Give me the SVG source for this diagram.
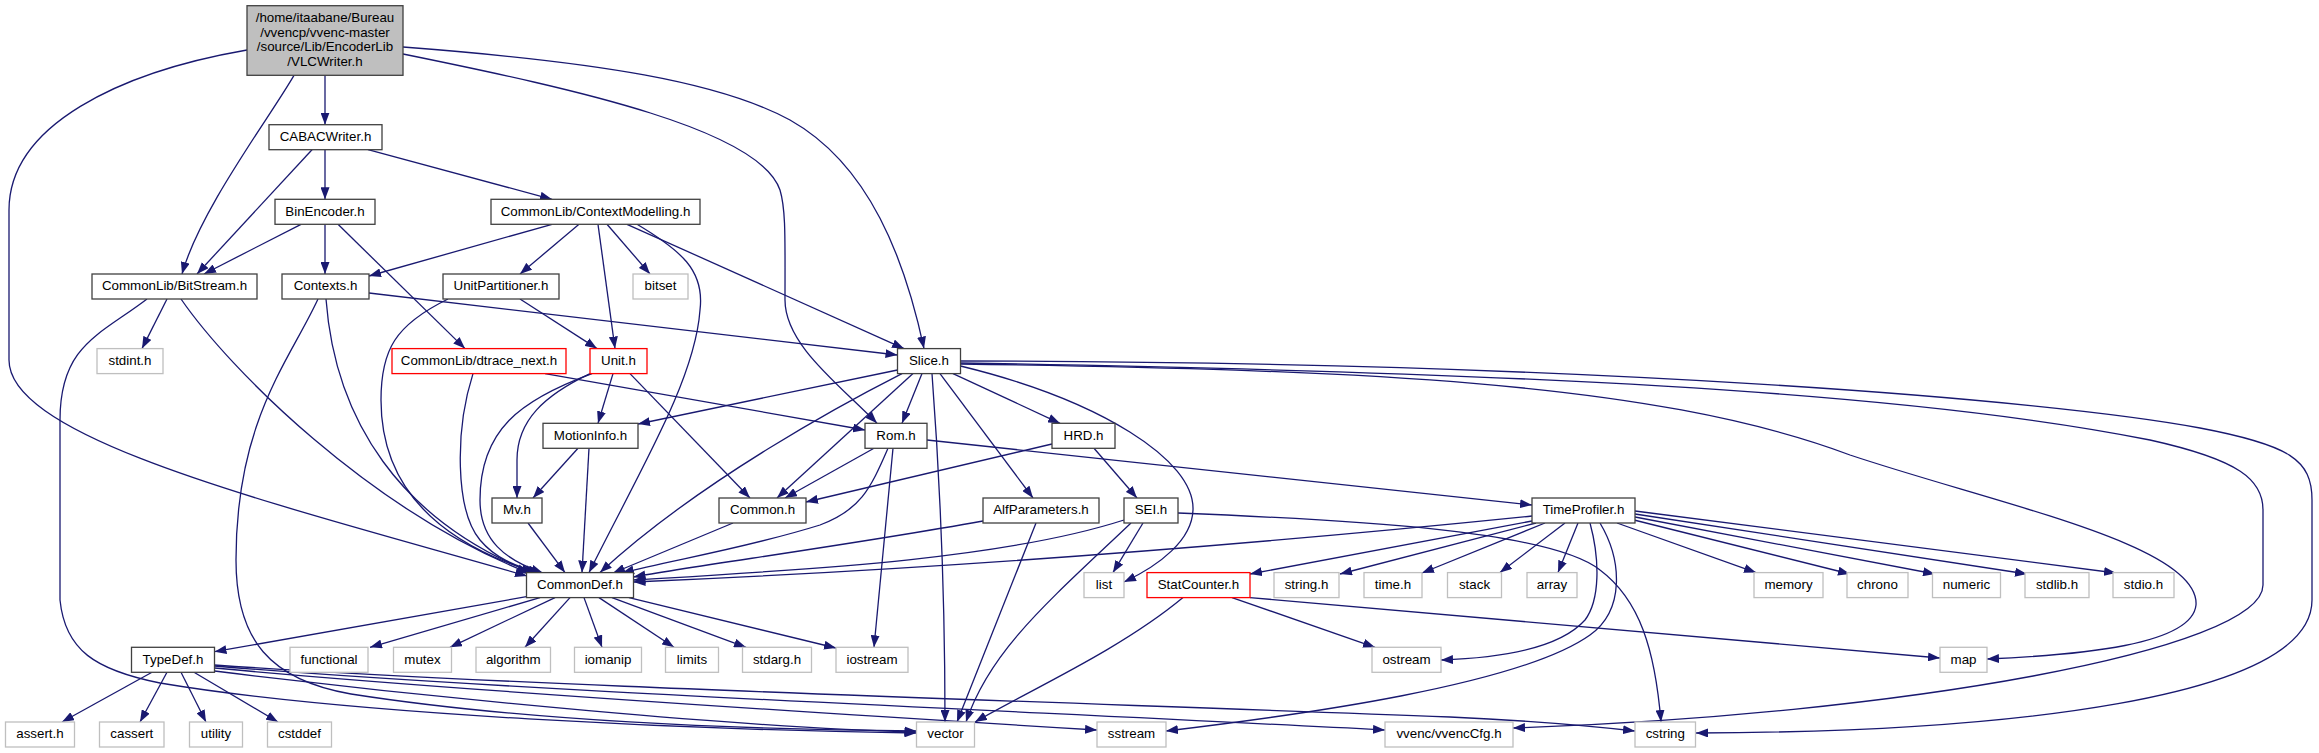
<svg xmlns="http://www.w3.org/2000/svg" width="2319" height="753" viewBox="0 0 2319 753">
<style>
.n rect{fill:#fff;stroke:#404040;stroke-width:1.3}
.n.x rect{stroke:#bfbfbf}
.n.r rect{stroke:#ff0000}
.n.m rect{fill:#bfbfbf}
.n text{font-family:"Liberation Sans",Arial,sans-serif;font-size:13.33px;fill:#000;text-anchor:middle}
#edges path{fill:none;stroke:#191970;stroke-width:1.3;marker-end:url(#a)}
</style>
<defs>
<marker id="a" viewBox="0 0 12 9" refX="12" refY="4.5" markerWidth="12" markerHeight="9" markerUnits="userSpaceOnUse" orient="auto">
<path d="M0,0 L12,4.5 L0,9 z" fill="#191970"/>
</marker>
</defs>
<rect width="2319" height="753" fill="#fff"/>
<g id="edges">
<path d="M325,75.3 L325,124.7"/>
<path d="M294,75.3 C268,120 200,210 182,274"/>
<path d="M247,50 C120,72 9,125 9,210 L9,360 C9,440 280,505 527,576"/>
<path d="M403,47 C600,62 720,82 790,120 C870,165 905,260 924,348.6"/>
<path d="M403,54 C580,90 760,130 780,190 C786,210 785,240 785,300 C785,345 840,385 877,423.3"/>
<path d="M325,149.7 L325,199.3"/>
<path d="M312,149.7 L197,274"/>
<path d="M368,149.7 L552,199.3"/>
<path d="M301,224.3 L204,274"/>
<path d="M325,224.3 L325,274"/>
<path d="M338,224.3 L465,348.6"/>
<path d="M552,224.3 L369,276"/>
<path d="M579,224.3 L520,274"/>
<path d="M598,224.3 L615,348.6"/>
<path d="M607,224.3 L650,274"/>
<path d="M627,224.3 L904,348.6"/>
<path d="M637,224.3 C680,250 705,270 700,310 C695,380 640,470 589,572.6"/>
<path d="M167,299 L142,348.6"/>
<path d="M147,299 C100,335 60,345 60,420 L60,600 C65,650 95,670 160,683 C350,715 700,730 916.5,733"/>
<path d="M181,299 C230,370 370,510 529,573"/>
<path d="M369,293 L897.5,355"/>
<path d="M318,299 C290,360 236,420 236,560 C236,640 270,680 351,694 C550,725 800,730 916.5,731"/>
<path d="M326,299 C335,420 400,520 533,573"/>
<path d="M520,299 L597,348.6"/>
<path d="M448,299 C395,325 381,350 381,400 C381,480 430,540 537,573"/>
<path d="M545,373.6 L865,430"/>
<path d="M473,373.6 C455,430 455,510 480,540 C495,558 515,566 540,573"/>
<path d="M613,373.6 L598,423.3"/>
<path d="M590,373.6 C545,395 517,420 517,460 L517,498"/>
<path d="M592,373.6 C520,400 480,430 480,500 C480,540 505,560 543,573"/>
<path d="M630,373.6 L750,498"/>
<path d="M897.5,370 L638,424"/>
<path d="M902,373.6 C850,400 700,480 600,572.6"/>
<path d="M913,373.6 L777,498"/>
<path d="M922,373.6 L902,423.3"/>
<path d="M932,373.6 C940,480 945,600 945,722"/>
<path d="M940,373.6 L1033,498"/>
<path d="M953,373.6 L1060,423.3"/>
<path d="M960.5,366 C1100,400 1195,460 1193,510 C1192,540 1160,565 1124,582"/>
<path d="M960.5,364 C1350,370 1650,380 1850,455 C2000,505 2200,545 2196,605 C2192,645 2080,655 1987,659"/>
<path d="M960.5,363 C1500,372 1900,390 2150,440 C2240,460 2263,480 2263,510 L2263,585 C2263,650 1900,715 1513,728"/>
<path d="M960.5,361 C1600,362 2050,400 2200,428 C2290,445 2312,460 2312,500 L2312,600 C2312,700 2000,732 1696,733"/>
<path d="M874,448.3 L785,498"/>
<path d="M888,448.3 C870,490 860,510 820,525 C740,550 670,560 622,573"/>
<path d="M893,448.3 L874,647.3"/>
<path d="M927,440 L1532,505"/>
<path d="M1052,444 L806,502"/>
<path d="M1094,448.3 L1137,498"/>
<path d="M733,523 L613,573"/>
<path d="M983,521 C850,545 700,565 633.5,577"/>
<path d="M1036,523 L957,722"/>
<path d="M1124,520 C1000,560 800,570 633.5,580"/>
<path d="M1143,523 L1113,572.6"/>
<path d="M1131,523 C1050,600 990,650 966,722"/>
<path d="M1178,513 C1350,520 1550,530 1600,570 C1640,600 1655,650 1661,722"/>
<path d="M1532,516 C1100,560 800,575 633.5,582"/>
<path d="M1532,521 L1250,574"/>
<path d="M1536,523 L1340,574"/>
<path d="M1545,523 L1422,573"/>
<path d="M1565,523 L1500,572.6"/>
<path d="M1578,523 L1558,572.6"/>
<path d="M1617,523 L1756,572.6"/>
<path d="M1634,520 L1850,574"/>
<path d="M1635,517 L1935,574"/>
<path d="M1635,514 L2027,574"/>
<path d="M1635,511 L2116,573"/>
<path d="M1590,523 C1600,560 1600,600 1585,620 C1560,648 1500,658 1441,660"/>
<path d="M1600,523 C1622,560 1625,610 1590,635 C1520,685 1300,715 1166,731"/>
<path d="M1250,597.6 L1940,658"/>
<path d="M1232,597.6 L1375,647.3"/>
<path d="M1183,597.6 C1120,650 1030,690 975,722"/>
<path d="M578,448.3 L533,498"/>
<path d="M589,448.3 L582,572.6"/>
<path d="M528,523 L565,572.6"/>
<path d="M526.5,596.7 L214.5,651.7"/>
<path d="M540,597.6 L370,647.3"/>
<path d="M555,597.6 L450,647.3"/>
<path d="M570,597.6 L525,647.3"/>
<path d="M584,597.6 L602,647.3"/>
<path d="M599,597.6 L674,647.3"/>
<path d="M612,597.6 L746,647.3"/>
<path d="M629,597.6 L836,648"/>
<path d="M152,672.3 L62,722"/>
<path d="M167,672.3 L140,722"/>
<path d="M181,672.3 L206,722"/>
<path d="M194,672.3 L278,722"/>
<path d="M214.5,671 C450,700 750,728 916.5,732"/>
<path d="M214.5,668 C450,690 850,715 1097,730"/>
<path d="M214.5,666 C500,690 1000,710 1385,730"/>
<path d="M214.5,665 C500,685 1000,700 1450,717 C1540,721 1600,727 1635,731"/>
</g>
<g id="n_vlcwriter" class="n m"><rect x="247" y="5.7" width="156" height="69.6"/><text x="325" y="21.7">/home/itaabane/Bureau</text><text x="325" y="36.5">/vvencp/vvenc-master</text><text x="325" y="51.3">/source/Lib/EncoderLib</text><text x="325" y="66.2">/VLCWriter.h</text></g>
<g id="n_cabacwriter" class="n"><rect x="269" y="124.7" width="113" height="25"/><text x="325.5" y="141">CABACWriter.h</text></g>
<g id="n_binencoder" class="n"><rect x="275" y="199.3" width="100" height="25"/><text x="325" y="215.6">BinEncoder.h</text></g>
<g id="n_contextmodelling" class="n"><rect x="491" y="199.3" width="209" height="25"/><text x="595.5" y="215.6">CommonLib/ContextModelling.h</text></g>
<g id="n_bitstream" class="n"><rect x="92" y="274" width="165" height="25"/><text x="174.5" y="290.3">CommonLib/BitStream.h</text></g>
<g id="n_contexts" class="n"><rect x="282" y="274" width="87" height="25"/><text x="325.5" y="290.3">Contexts.h</text></g>
<g id="n_unitpartitioner" class="n"><rect x="443" y="274" width="116" height="25"/><text x="501" y="290.3">UnitPartitioner.h</text></g>
<g id="n_bitset" class="n x"><rect x="633" y="274" width="55" height="25"/><text x="660.5" y="290.3">bitset</text></g>
<g id="n_stdint" class="n x"><rect x="97" y="348.6" width="66" height="25"/><text x="130" y="364.9">stdint.h</text></g>
<g id="n_dtrace" class="n r"><rect x="392" y="348.6" width="174" height="25"/><text x="479" y="364.9">CommonLib/dtrace_next.h</text></g>
<g id="n_unit" class="n r"><rect x="590" y="348.6" width="57" height="25"/><text x="618.5" y="364.9">Unit.h</text></g>
<g id="n_slice" class="n"><rect x="897.5" y="348.6" width="63" height="25"/><text x="929" y="364.9">Slice.h</text></g>
<g id="n_motioninfo" class="n"><rect x="543" y="423.3" width="95" height="25"/><text x="590.5" y="439.6">MotionInfo.h</text></g>
<g id="n_rom" class="n"><rect x="865" y="423.3" width="62" height="25"/><text x="896" y="439.6">Rom.h</text></g>
<g id="n_hrd" class="n"><rect x="1052" y="423.3" width="63" height="25"/><text x="1083.5" y="439.6">HRD.h</text></g>
<g id="n_mv" class="n"><rect x="492" y="498" width="50" height="25"/><text x="517" y="514.3">Mv.h</text></g>
<g id="n_common" class="n"><rect x="719" y="498" width="87" height="25"/><text x="762.5" y="514.3">Common.h</text></g>
<g id="n_alfparameters" class="n"><rect x="983" y="498" width="116" height="25"/><text x="1041" y="514.3">AlfParameters.h</text></g>
<g id="n_sei" class="n"><rect x="1124" y="498" width="54" height="25"/><text x="1151" y="514.3">SEI.h</text></g>
<g id="n_timeprofiler" class="n"><rect x="1532" y="498" width="103" height="25"/><text x="1583.5" y="514.3">TimeProfiler.h</text></g>
<g id="n_commondef" class="n"><rect x="526.5" y="572.6" width="107" height="25"/><text x="580" y="588.9">CommonDef.h</text></g>
<g id="n_list" class="n x"><rect x="1084" y="572.6" width="40" height="25"/><text x="1104" y="588.9">list</text></g>
<g id="n_statcounter" class="n r"><rect x="1147" y="572.6" width="103" height="25"/><text x="1198.5" y="588.9">StatCounter.h</text></g>
<g id="n_string" class="n x"><rect x="1274" y="572.6" width="65" height="25"/><text x="1306.5" y="588.9">string.h</text></g>
<g id="n_time" class="n x"><rect x="1364" y="572.6" width="58" height="25"/><text x="1393" y="588.9">time.h</text></g>
<g id="n_stack" class="n x"><rect x="1447.5" y="572.6" width="54" height="25"/><text x="1474.5" y="588.9">stack</text></g>
<g id="n_array" class="n x"><rect x="1527" y="572.6" width="50" height="25"/><text x="1552" y="588.9">array</text></g>
<g id="n_memory" class="n x"><rect x="1754" y="572.6" width="69" height="25"/><text x="1788.5" y="588.9">memory</text></g>
<g id="n_chrono" class="n x"><rect x="1847" y="572.6" width="61" height="25"/><text x="1877.5" y="588.9">chrono</text></g>
<g id="n_numeric" class="n x"><rect x="1932.5" y="572.6" width="68" height="25"/><text x="1966.5" y="588.9">numeric</text></g>
<g id="n_stdlib" class="n x"><rect x="2025" y="572.6" width="64" height="25"/><text x="2057" y="588.9">stdlib.h</text></g>
<g id="n_stdio" class="n x"><rect x="2113" y="572.6" width="61" height="25"/><text x="2143.5" y="588.9">stdio.h</text></g>
<g id="n_typedef" class="n"><rect x="131.5" y="647.3" width="83" height="25"/><text x="173" y="663.6">TypeDef.h</text></g>
<g id="n_functional" class="n x"><rect x="290" y="647.3" width="78" height="25"/><text x="329" y="663.6">functional</text></g>
<g id="n_mutex" class="n x"><rect x="393.5" y="647.3" width="58" height="25"/><text x="422.5" y="663.6">mutex</text></g>
<g id="n_algorithm" class="n x"><rect x="476" y="647.3" width="74.5" height="25"/><text x="513.3" y="663.6">algorithm</text></g>
<g id="n_iomanip" class="n x"><rect x="574.5" y="647.3" width="67" height="25"/><text x="608" y="663.6">iomanip</text></g>
<g id="n_limits" class="n x"><rect x="665.5" y="647.3" width="53" height="25"/><text x="692" y="663.6">limits</text></g>
<g id="n_stdarg" class="n x"><rect x="742.5" y="647.3" width="69" height="25"/><text x="777" y="663.6">stdarg.h</text></g>
<g id="n_iostream" class="n x"><rect x="836" y="647.3" width="72" height="25"/><text x="872" y="663.6">iostream</text></g>
<g id="n_ostream" class="n x"><rect x="1372" y="647.3" width="69" height="25"/><text x="1406.5" y="663.6">ostream</text></g>
<g id="n_map" class="n x"><rect x="1940" y="647.3" width="47" height="25"/><text x="1963.5" y="663.6">map</text></g>
<g id="n_assert" class="n x"><rect x="5.5" y="722" width="69" height="25"/><text x="40" y="738.3">assert.h</text></g>
<g id="n_cassert" class="n x"><rect x="99.5" y="722" width="64.5" height="25"/><text x="131.8" y="738.3">cassert</text></g>
<g id="n_utility" class="n x"><rect x="189.5" y="722" width="53" height="25"/><text x="216" y="738.3">utility</text></g>
<g id="n_cstddef" class="n x"><rect x="267.5" y="722" width="64" height="25"/><text x="299.5" y="738.3">cstddef</text></g>
<g id="n_vector" class="n x"><rect x="916.5" y="722" width="58" height="25"/><text x="945.5" y="738.3">vector</text></g>
<g id="n_sstream" class="n x"><rect x="1097" y="722" width="69" height="25"/><text x="1131.5" y="738.3">sstream</text></g>
<g id="n_vvenccfg" class="n x"><rect x="1385" y="722" width="128" height="25"/><text x="1449" y="738.3">vvenc/vvencCfg.h</text></g>
<g id="n_cstring" class="n x"><rect x="1635" y="722" width="60.5" height="25"/><text x="1665.3" y="738.3">cstring</text></g>
</svg>
